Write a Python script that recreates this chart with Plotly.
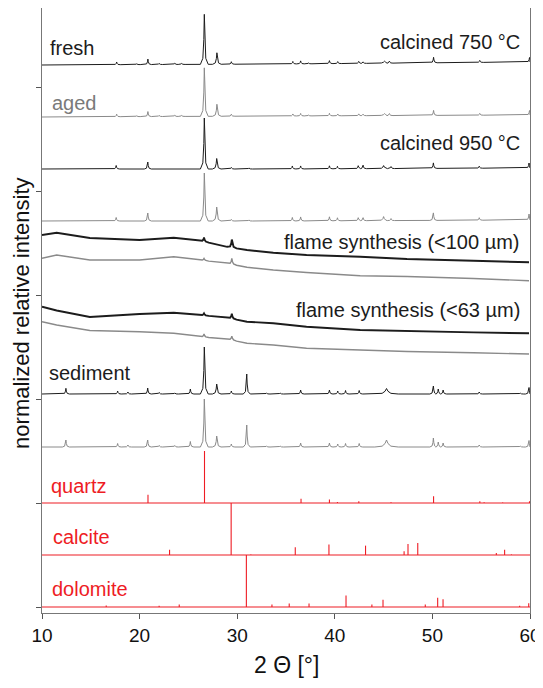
import numpy as np
import plotly.graph_objects as go

# ---------------- data ----------------
# crystalline diffractograms: baseline points (2theta, intensity) and peaks (2theta, height)
C750_FRESH_BASE_X = [10, 35, 60]
C750_FRESH_BASE_Y = [548, 549, 551]
C750_FRESH_POS = [17.65, 19.7, 20.85, 22.0, 23.6, 24.3, 26.63, 27.92, 29.4, 35.7, 36.5, 37.3, 39.45, 40.3, 42.45, 42.9, 45.1, 45.6, 50.12, 54.85, 59.95]
C750_FRESH_H = [2.7, 0.8, 5.5, 1.0, 1.2, 1.0, 50, 11.5, 2.5, 2.5, 3.0, 0.8, 3.0, 2.0, 2.0, 1.5, 2.0, 2.0, 5.5, 2.0, 4.5]

C750_AGED_BASE_X = [10, 35, 60]
C750_AGED_BASE_Y = [496, 497, 498]
C750_AGED_POS = [17.65, 19.7, 20.85, 22.0, 23.6, 24.3, 26.63, 27.92, 29.4, 35.7, 36.5, 37.3, 39.45, 40.3, 42.45, 42.9, 45.1, 45.6, 50.12, 54.85, 59.95]
C750_AGED_H = [2.5, 0.8, 5.0, 1.0, 1.2, 1.0, 48.5, 12.0, 2.0, 2.0, 2.5, 0.8, 2.5, 1.8, 1.8, 1.5, 2.0, 2.0, 5.0, 1.8, 4.5]

C950_FRESH_BASE_X = [10, 35, 60]
C950_FRESH_BASE_Y = [444, 444, 445]
C950_FRESH_POS = [17.6, 20.84, 26.63, 27.9, 29.4, 31.2, 35.65, 36.5, 39.45, 40.27, 42.4, 42.9, 45.0, 45.76, 50.1, 54.8, 59.9]
C950_FRESH_H = [3.5, 7.0, 51, 10.5, 1.5, 1.0, 3.0, 3.0, 3.0, 2.5, 3.0, 3.5, 3.0, 2.0, 5.5, 2.0, 5.0]

C950_AGED_BASE_X = [10, 35, 60]
C950_AGED_BASE_Y = [392, 392, 393]
C950_AGED_POS = [17.6, 20.84, 26.63, 27.9, 29.4, 31.2, 35.65, 36.5, 39.45, 40.27, 42.4, 42.9, 45.0, 45.76, 50.1, 54.8, 59.9]
C950_AGED_H = [3.5, 8.0, 48, 14.0, 1.5, 1.0, 3.5, 4.0, 4.0, 3.0, 3.0, 3.0, 4.0, 2.0, 7.5, 2.5, 6.0]

SED_FRESH_BASE_X = [10, 35, 60]
SED_FRESH_BASE_Y = [219, 219, 219]
SED_FRESH_POS = [12.45, 17.75, 18.8, 20.83, 22.0, 23.6, 25.2, 26.63, 27.9, 29.4, 30.98, 33.0, 34.4, 36.5, 39.45, 40.3, 41.1, 42.5, 45.3, 50.1, 50.6, 51.1, 54.8, 59.0, 59.9]
SED_FRESH_H = [5.7, 3.0, 2.0, 6.0, 1.5, 1.0, 5.0, 47, 10.0, 3.0, 20.0, 1.0, 1.0, 4.0, 4.0, 3.0, 3.5, 3.5, 5.5, 8.0, 5.0, 4.0, 2.0, 1.0, 6.5]

SED_AGED_BASE_X = [10, 35, 60]
SED_AGED_BASE_Y = [166, 166, 166]
SED_AGED_POS = [12.45, 17.75, 18.8, 20.83, 22.0, 23.6, 25.2, 26.63, 27.9, 29.4, 30.98, 33.0, 34.4, 36.5, 39.45, 40.3, 41.1, 42.5, 45.3, 50.1, 50.6, 51.1, 54.8, 59.0, 59.9]
SED_AGED_H = [7.0, 3.5, 2.0, 7.0, 1.5, 1.5, 5.5, 48, 11.0, 3.0, 22.0, 1.0, 1.0, 4.0, 4.0, 3.0, 3.5, 3.5, 7.0, 9.0, 5.0, 4.0, 2.0, 1.0, 6.5]

BROAD_PEAKS = {45.1: 0.22, 45.3: 0.3, 45.0: 0.15, 27.9: 0.11, 27.92: 0.11, 26.63: 0.1}

# amorphous flame-synthesis patterns: background points and small peaks
FLAME_X = [10, 11.5, 14.9, 20.0, 23.5, 26.2, 28.9, 31.0, 33.7, 37.1, 42.6, 47.4, 54.2, 59.9]
FL100_FRESH_Y = [378, 380.3, 375, 373, 375.3, 372.3, 366.3, 363, 360.3, 358, 356.3, 354, 352.3, 350.7]
FL100_AGED_Y = [354.7, 358, 353, 353, 356.3, 353, 349.7, 345.7, 343, 340.5, 337.3, 336.5, 334.5, 332.3]
FL63_FRESH_Y = [306.3, 302.5, 296, 299, 300.3, 298, 295.3, 291.3, 289.7, 286.3, 283, 281.8, 280.6, 279.7]
FL63_AGED_Y = [291.3, 288, 282.5, 281.3, 279.7, 276.3, 274, 269.7, 268, 264.7, 263, 261.5, 260.2, 259]
FLAME_PEAK_POS = [26.6, 29.45]
FL100_FRESH_PK = [4, 8]
FL100_AGED_PK = [2, 6]
FL63_FRESH_PK = [2, 5]
FL63_AGED_PK = [3, 4]

# reference stick patterns (relative intensity, %)
QUARTZ_POS = [20.86, 26.65, 36.54, 39.45, 40.27, 42.46, 45.76, 50.12, 54.86, 55.3, 57.2, 59.95]
QUARTZ_I = [16, 100, 8, 6.5, 2, 3.2, 1.3, 13, 3.2, 1.3, 1, 3.2]
CALCITE_POS = [23.07, 29.38, 31.4, 35.95, 39.4, 43.15, 47.1, 47.5, 48.5, 56.55, 57.4, 58.1]
CALCITE_I = [10, 100, 1, 15, 20, 18, 7, 21, 23, 4, 10, 1]
DOLOMITE_POS = [16.58, 22.0, 24.06, 30.94, 33.56, 35.33, 37.36, 41.15, 43.8, 44.94, 49.27, 50.54, 51.09, 58.94, 59.87]
DOLOMITE_I = [3, 2.5, 5, 100, 5, 6.5, 6.5, 22, 5, 14, 5, 18, 15, 2.5, 7]

X_TICKS = [10, 20, 30, 40, 50, 60]

# ---------------- helpers ----------------
SHAPE_OFF = [-4, -1.5, -0.5, 0, 0.5, 1.5, 4]
SHAPE_FRAC = [0, 0.12, 0.5, 1, 0.5, 0.12, 0]


def pattern(base_x, base_y, pos, hgt, default_w=0.09):
    order = np.argsort(pos)
    pos = [pos[i] for i in order]
    hgt = [hgt[i] for i in order]
    pts = []
    spans = []
    for i, (p, h) in enumerate(zip(pos, hgt)):
        w = BROAD_PEAKS.get(p, default_w)
        lo = (pos[i - 1] + p) / 2 if i > 0 else -1e9
        hi = (pos[i + 1] + p) / 2 if i < len(pos) - 1 else 1e9
        xs = []
        for off, fr in zip(SHAPE_OFF, SHAPE_FRAC):
            x = p + off * w
            if fr == 0:
                x = min(max(x, lo), hi)
            elif x < lo or x > hi:
                continue
            x = min(max(x, base_x[0]), base_x[-1])
            xs.append(x)
            pts.append((x, float(np.interp(x, base_x, base_y)) + fr * h))
        spans.append((min(xs), max(xs)))
    for bx, by in zip(base_x, base_y):
        if not any(a < bx < b for a, b in spans):
            pts.append((bx, by))
    pts.sort(key=lambda t: t[0])
    return [t[0] for t in pts], [t[1] for t in pts]


def sticks(pos, inten, base, scale=0.52):
    xs, ys = [X_TICKS[0], X_TICKS[-1], None], [base, base, None]
    for p, i in zip(pos, inten):
        xs += [p, p, None]
        ys += [base, base + i * scale, None]
    return xs, ys


BLACK = "#1c1c1c"
GRAY = "#8a8a8a"
RED = "#ee1c24"

fig = go.Figure()

cryst = [
    (C750_FRESH_BASE_X, C750_FRESH_BASE_Y, C750_FRESH_POS, C750_FRESH_H, BLACK),
    (C750_AGED_BASE_X, C750_AGED_BASE_Y, C750_AGED_POS, C750_AGED_H, GRAY),
    (C950_FRESH_BASE_X, C950_FRESH_BASE_Y, C950_FRESH_POS, C950_FRESH_H, BLACK),
    (C950_AGED_BASE_X, C950_AGED_BASE_Y, C950_AGED_POS, C950_AGED_H, GRAY),
    (SED_FRESH_BASE_X, SED_FRESH_BASE_Y, SED_FRESH_POS, SED_FRESH_H, BLACK),
    (SED_AGED_BASE_X, SED_AGED_BASE_Y, SED_AGED_POS, SED_AGED_H, GRAY),
]
for bx, by, p, h, c in cryst:
    x, y = pattern(bx, by, p, h)
    fig.add_trace(go.Scatter(x=x, y=y, mode="lines", line=dict(color=c, width=1), hoverinfo="skip"))

flames = [
    (FL100_FRESH_Y, FL100_FRESH_PK, BLACK, 1.9),
    (FL100_AGED_Y, FL100_AGED_PK, GRAY, 1.4),
    (FL63_FRESH_Y, FL63_FRESH_PK, BLACK, 1.9),
    (FL63_AGED_Y, FL63_AGED_PK, GRAY, 1.4),
]
for by, pk, c, lw in flames:
    x, y = pattern(FLAME_X, by, FLAME_PEAK_POS, pk, default_w=0.12)
    fig.add_trace(go.Scatter(x=x, y=y, mode="lines", line=dict(color=c, width=lw), hoverinfo="skip"))

for pos, inten, base in [(QUARTZ_POS, QUARTZ_I, 110), (CALCITE_POS, CALCITE_I, 58), (DOLOMITE_POS, DOLOMITE_I, 6)]:
    x, y = sticks(pos, inten, base)
    fig.add_trace(go.Scatter(x=x, y=y, mode="lines", line=dict(color=RED, width=1.1), hoverinfo="skip", connectgaps=False))

FONT = "Liberation Sans, Arial, sans-serif"
labels = [
    ("fresh", 10.6, 565, "left", BLACK),
    ("calcined 750 °C", 59.2, 571, "right", BLACK),
    ("aged", 10.8, 510, "left", GRAY),
    ("calcined 950 °C", 59.2, 470, "right", BLACK),
    ("flame synthesis (<100 µm)", 59.2, 371, "right", BLACK),
    ("flame synthesis (<63 µm)", 59.2, 303, "right", BLACK),
    ("sediment", 10.5, 240, "left", BLACK),
    ("quartz", 10.75, 127, "left", RED),
    ("calcite", 10.9, 76, "left", RED),
    ("dolomite", 10.8, 24, "left", RED),
]
for t, x, y, anc, c in labels:
    fig.add_annotation(x=x, y=y, text=t, showarrow=False, xanchor=anc, yanchor="middle",
                       font=dict(family=FONT, size=20, color=c if c != GRAY else "#7a7a7a"))

fig.add_annotation(xref="paper", yref="paper", x=-0.041, y=0.496, text="normalized relative intensity",
                   textangle=-90, showarrow=False, xanchor="center", yanchor="middle",
                   font=dict(family=FONT, size=22, color="#111"))
fig.add_annotation(xref="paper", yref="paper", x=0.5, y=-0.086, text="2 Θ [°]",
                   showarrow=False, xanchor="center", yanchor="middle",
                   font=dict(family=FONT, size=23, color="#111"))

# the page body adds an 8 px offset; the figure is sized so the page does not overflow the window
fig.update_layout(
    width=535, height=672,
    margin=dict(l=34, r=13, t=0, b=67),
    paper_bgcolor="white", plot_bgcolor="white",
    showlegend=False,
)
fig.update_xaxes(range=[10, 60], tickvals=X_TICKS, ticks="outside", ticklen=5, tickcolor="#555",
                 showline=True, linecolor="#777", linewidth=1, mirror=True, showgrid=False, zeroline=False,
                 tickfont=dict(family=FONT, size=19, color="#111"))
fig.update_yaxes(range=[0, 605], tick0=6, dtick=104, ticks="outside", ticklen=5, tickcolor="#555",
                 showticklabels=False, showline=True, linecolor="#777", linewidth=1, mirror=True,
                 showgrid=False, zeroline=False)

fig.write_html("out.html", config={"displayModeBar": False})
